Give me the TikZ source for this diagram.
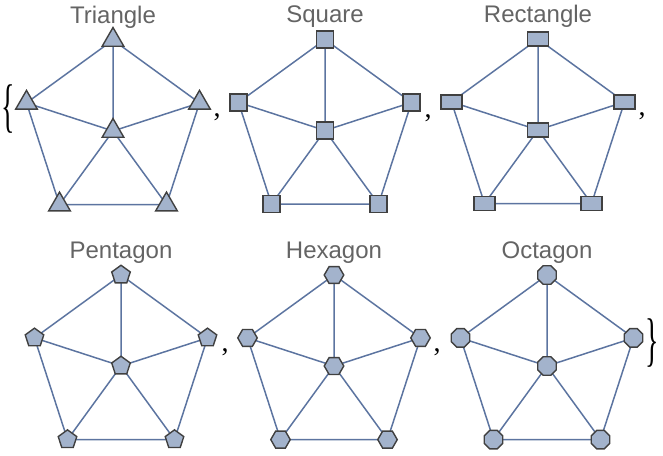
\documentclass[tikz,border=0pt]{standalone}
\usepackage{fontspec}
\setmainfont{Liberation Sans}
\newfontfamily\bracefont{Liberation Serif}
\usetikzlibrary{shapes.geometric}
\definecolor{vfill}{RGB}{163,179,204}
\definecolor{vdraw}{RGB}{64,64,64}
\definecolor{edgec}{RGB}{92,116,160}
\definecolor{labelc}{RGB}{100,100,100}
\pgfdeclarelayer{background}
\pgfsetlayers{background,main}
\tikzset{
  vbase/.style={fill=vfill, draw=vdraw, line width=1.4pt, inner sep=0pt, outer sep=0pt},
  vtri/.style={vbase, regular polygon, regular polygon sides=3, minimum size=25pt},
  vsq/.style={vbase, rectangle, minimum width=17pt, minimum height=17pt},
  vrect/.style={vbase, rectangle, minimum width=21pt, minimum height=14pt},
  vpent/.style={vbase, regular polygon, regular polygon sides=5, minimum size=19.5pt},
  vhex/.style={vbase, regular polygon, regular polygon sides=6, minimum size=19.5pt},
  voct/.style={vbase, regular polygon, regular polygon sides=8, minimum size=20pt},
  edge/.style={draw=edgec, line width=1.5pt},
  glabel/.style={text=labelc, font=\fontsize{24}{27}\selectfont, anchor=base, inner sep=0pt},
  punct/.style={font=\bracefont\fontsize{28}{30}\selectfont, inner sep=0pt, text=black},
}
\newcommand{\wheelgraph}[5]{%
  \begin{scope}[shift={(#2,#3)}]
    \node[#4] (#1c) at (0,0) {};
    \node[#4] (#1a) at (0,-91) {};
    \node[#4] (#1b) at (-86.5,-28.1) {};
    \node[#4] (#1d) at (-53.5,73.6) {};
    \node[#4] (#1e) at (53.5,73.6) {};
    \node[#4] (#1f) at (86.5,-28.1) {};
  \end{scope}
  \begin{pgfonlayer}{background}
  \draw[edge] (#1a.center) -- (#1b.center) -- (#1d.center) -- (#1e.center) -- (#1f.center) -- cycle;
  \draw[edge] (#1c) -- (#1a) (#1c) -- (#1b) (#1c) -- (#1d) (#1c) -- (#1e) (#1c) -- (#1f);
  \end{pgfonlayer}
  \node[glabel] (#1l) at (#2,#3-108) {#5};
}
\begin{document}
\begin{tikzpicture}[x=1pt,y=-1pt]
  \useasboundingbox (0,0) rectangle (663,455);
  \wheelgraph{t}{113}{131}{vtri}{Triangle}
  \wheelgraph{s}{325}{130.5}{vsq}{Square}
  \wheelgraph{r}{538}{130}{vrect}{Rectangle}
  \wheelgraph{p}{121}{366}{vpent}{Pentagon}
  \wheelgraph{h}{334}{366}{vhex}{Hexagon}
  \wheelgraph{o}{547}{366}{voct}{Octagon}
  \node[punct] (lbrace) at (8,109) {\scalebox{1}[2.1]{\{}};
  \node[punct] (rbrace) at (652,343) {\scalebox{1}[2.1]{\}}};
  \node[punct] (c1) at (217,117) {,};
  \node[punct] (c2) at (428,118) {,};
  \node[punct] (c3) at (642,116) {,};
  \node[punct] (c4) at (225,352) {,};
  \node[punct] (c5) at (437,352) {,};
\end{tikzpicture}
\end{document}
